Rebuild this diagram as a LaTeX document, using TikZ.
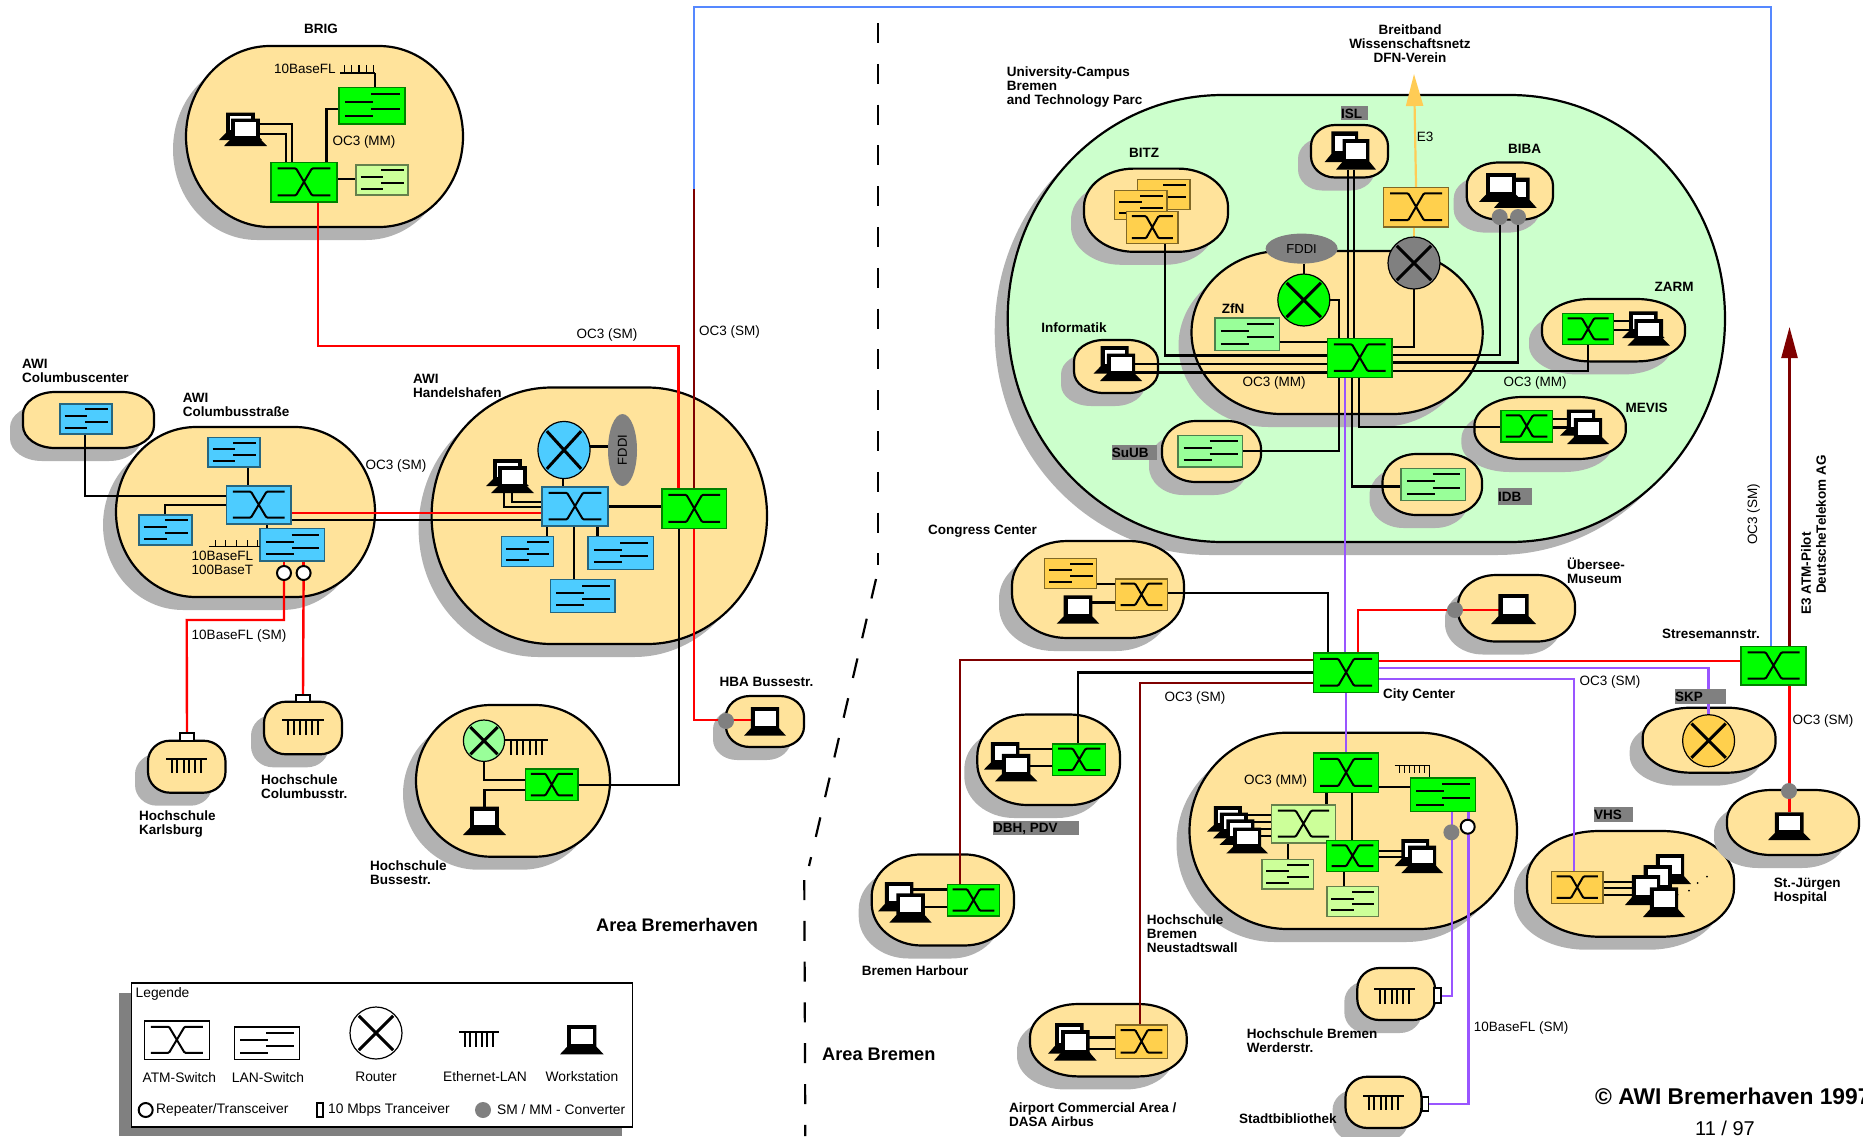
\documentclass[tikz,border=0pt]{standalone}
\usepackage{fontspec}
\setmainfont{Liberation Sans}
\usetikzlibrary{shapes.geometric,arrows.meta}
\definecolor{blobc}{HTML}{FFE39B}
\definecolor{campusc}{HTML}{CCFFCC}
\definecolor{shadowc}{HTML}{B2B2B2}
\definecolor{grn}{HTML}{00FF00}
\definecolor{blu}{HTML}{4DCCFF}
\definecolor{org}{HTML}{FFD04D}
\definecolor{lgr}{HTML}{CCFF99}
\definecolor{mgr}{HTML}{99FF99}
\definecolor{gry}{HTML}{808080}
\definecolor{drk}{HTML}{7F0000}
\definecolor{pur}{HTML}{9955FF}
\definecolor{bluw}{HTML}{5588FF}
\definecolor{yel}{HTML}{FFCC55}
\pgfdeclarelayer{bg}
\pgfdeclarelayer{wires}
\pgfsetlayers{bg,wires,main}
\tikzset{
  blab/.style={font=\fontsize{13.5}{14}\selectfont\bfseries,inner sep=0pt,align=left,yshift=-0.6pt},
  nlab/.style={font=\fontsize{13.5}{14.5}\selectfont,inner sep=0pt,align=left,yshift=-0.6pt},
  leglab/.style={font=\fontsize{13.8}{14}\selectfont,inner sep=0pt},
  areab/.style={font=\fontsize{18.2}{19}\selectfont\bfseries,inner sep=0pt},
  wb/.style={draw=black,line width=2.2pt},
  wr/.style={draw=red,line width=2.4pt},
  wd/.style={draw=drk,line width=2.4pt},
  wp/.style={draw=pur,line width=2.4pt},
  wu/.style={draw=bluw,line width=2.5pt},
  wy/.style={draw=yel,line width=2.2pt},
  conv/.style={circle,fill=gry,inner sep=0pt,outer sep=0pt,minimum size=16pt},
  rep/.style={circle,draw=black,fill=white,line width=2pt,inner sep=0pt,outer sep=0pt,minimum size=14pt},
  trc/.style={draw=black,fill=white,line width=1.6pt},
  fddi/.style={ellipse,fill=gry,inner sep=0pt,outer sep=0pt,font=\fontsize{13}{14}\selectfont},
  zone/.style={dash pattern=on 20pt off 20.8pt,line width=2.2pt,draw=black}
}
\newcommand\blob[7][blobc]{%
  \pgfmathsetmacro\bym{(#4+#6)/2}%
  \pgfmathsetmacro\bfr{((#6-#4)>=120)?1:(((#6-#4)>=60)?0.92:0.8)}%
  \pgfmathsetmacro\bry{\bfr*(#6-#4)/2}%
  \pgfmathsetmacro\bya{#4+\bry}%
  \pgfmathsetmacro\byb{#6-\bry}%
  \pgfmathsetmacro\bxl{#3+#7}%
  \pgfmathsetmacro\bxr{#5-#7}%
  \pgfmathsetmacro\bkx{0.5523*#7}%
  \pgfmathsetmacro\bky{0.5523*\bry}%
  \def\bpath{(\bxl,#4) -- (\bxr,#4) .. controls ({\bxr+\bkx},#4) and (#5,{\bya-\bky}) .. (#5,\bya) -- (#5,\byb) .. controls (#5,{\byb+\bky}) and ({\bxr+\bkx},#6) .. (\bxr,#6) -- (\bxl,#6) .. controls ({\bxl-\bkx},#6) and (#3,{\byb+\bky}) .. (#3,\byb) -- (#3,\bya) .. controls (#3,{\bya-\bky}) and ({\bxl-\bkx},#4) .. (\bxl,#4) -- cycle}%
  \fill[shadowc,shift={(-13,13)}] \bpath;
  \draw[line width=2.2pt,fill=#1] \bpath;
  \node[inner sep=0pt,outer sep=0pt,minimum width={(#5-#3)*1pt},minimum height={(#6-#4)*1pt}] (#2) at ({(#3+#5)/2},\bym) {};
}
\newcommand\devnode[6]{%
  \node[rectangle,inner sep=0pt,outer sep=0pt,minimum width={(#5-#3)*1pt},minimum height={(#6-#4)*1pt},#1] (#2) at ({(#3+#5)/2},{(#4+#6)/2}) {};
}
\newcommand\atm[7][]{%
  \devnode{fill=#7,draw=#7!50!black,line width=1.4pt,#1}{#2}{#3}{#4}{#5}{#6}
  \pgfmathsetmacro\devw{#5-#3}\pgfmathsetmacro\devh{#6-#4}%
  \begin{scope}[shift={(#3,#4)},x=\devw pt,y=-\devh pt]
    \draw[line width=2pt,rounded corners=1pt] (.1,.15)--(.38,.15)--(.62,.83)--(.9,.83) (.1,.83)--(.38,.83)--(.62,.15)--(.9,.15);
  \end{scope}
}
\newcommand\lan[7][]{%
  \devnode{fill=#7,draw=#7!50!black,line width=1.4pt,#1}{#2}{#3}{#4}{#5}{#6}
  \pgfmathsetmacro\devw{#5-#3}\pgfmathsetmacro\devh{#6-#4}%
  \begin{scope}[shift={(#3,#4)},x=\devw pt,y=-\devh pt]
    \draw[line width=2pt] (.49,.18)--(.92,.18) (.09,.4)--(.52,.4) (.49,.59)--(.92,.59) (.09,.79)--(.52,.79);
  \end{scope}
}
\newcommand\router[7][]{%
  \node[ellipse,draw=black,fill=#7,line width=1.2pt,inner sep=0pt,outer sep=0pt,minimum width={2*#5*1pt},minimum height={2*#6*1pt},#1] (#2) at (#3,#4) {};
  \draw[line width=3pt] ({#3-.66*#5},{#4-.66*#6}) -- ({#3+.66*#5},{#4+.66*#6}) ({#3-.66*#5},{#4+.66*#6}) -- ({#3+.66*#5},{#4-.66*#6});
}
\newcommand\ws[5]{%
  \devnode{}{#1}{#2}{#3}{#4}{#5}
  \pgfmathsetmacro\devw{#4-#2}\pgfmathsetmacro\devh{#5-#3}%
  \begin{scope}[shift={(#2,#3)},x=\devw pt,y=-\devh pt]
    \fill[black] (.164,0)--(.836,0)--(.836,.74)--(1,1)--(0,1)--(.164,.74)--cycle;
    \fill[white] (.26,.14) rectangle (.75,.65);
  \end{scope}
}
\newcommand\ethdown[6][line width=2pt]{%
  \devnode{}{#2}{#3}{#4}{#5}{#6}
  \pgfmathsetmacro\devw{#5-#3}\pgfmathsetmacro\devh{#6-#4}%
  \begin{scope}[shift={(#3,#4)},x=\devw pt,y=-\devh pt]
    \draw[#1] (0,0)--(1,0);
    \foreach \tk in {.14,.28,.43,.57,.71,.86} {\draw[#1] (\tk,0)--(\tk,1);}
  \end{scope}
}
\newcommand\ethup[5]{%
  \devnode{}{#1}{#2}{#3}{#4}{#5}
  \pgfmathsetmacro\devw{#4-#2}\pgfmathsetmacro\devh{#5-#3}%
  \begin{scope}[shift={(#2,#3)},x=\devw pt,y=-\devh pt]
    \draw[line width=1.2pt] (0,1)--(1,1);
    \foreach \tk in {.12,.33,.54,.75,.95} {\draw[line width=1.2pt] (\tk,1)--(\tk,0);}
  \end{scope}
}
\newcommand\graylab[6]{%
  \devnode{fill=gry}{#1}{#2}{#3}{#4}{#5}
  \node[blab,anchor=west] at (#1.west) {#6};
}
\begin{document}
\begin{tikzpicture}[x=1pt,y=-1pt]
\useasboundingbox (0,0) rectangle (1863,1136);

% ---------- areas ----------
\begin{pgfonlayer}{bg}
\blob{brig}{186}{46}{463}{227}{84}
\blob{colc}{23}{392}{154}{448}{32}
\blob{cols}{116}{427}{375}{597}{80}
\blob{hafen}{431.6}{387.5}{767}{644}{120}
\blob{karl}{148}{740.7}{225.5}{792.7}{22}
\blob{colh}{264}{701.7}{342}{754.3}{22}
\blob{buss}{416}{705}{610}{856.7}{75}
\blob{hba}{726}{696}{804}{747}{24}
\blob[campusc]{campus}{1007.7}{95}{1725}{542}{215}
\blob{isl}{1311}{125}{1388}{177.5}{24}
\blob{bitz}{1084}{168.6}{1228}{251.8}{50}
\blob{biba}{1466.7}{162.5}{1553}{219.6}{32}
\blob{zfn}{1191.5}{251}{1482.7}{414}{90}
\blob{inf}{1074}{340}{1158}{393}{30}
\blob{zarm}{1542}{299}{1685}{361.4}{48}
\blob{mevis}{1474.4}{397}{1625.8}{459}{48}
\blob{suub}{1162}{421}{1261}{482}{34}
\blob{idb}{1382.5}{454}{1482}{515}{34}
\blob{cong}{1012}{541}{1184}{638}{55}
\blob{ueb}{1458}{575}{1575}{641.5}{38}
\blob{dbh}{977.3}{714.5}{1120}{805}{50}
\blob{harb}{871.7}{854.4}{1014}{945.5}{50}
\blob{neu}{1189.5}{732.7}{1517}{929}{98}
\blob{airp}{1030}{1004}{1186.7}{1076.4}{48}
\blob{werd}{1357.3}{968}{1435}{1020}{22}
\blob{stadt}{1345.5}{1076.7}{1421.4}{1128}{22}
\blob{skp}{1642.7}{707.7}{1775.5}{772.7}{48}
\blob{vhs}{1527}{831}{1734}{936.7}{72}
\blob{jue}{1727}{790}{1859}{855}{44}
\end{pgfonlayer}

% ---------- BRIG ----------
\lan{brigl}{339}{87.5}{405}{124}{grn}
\lan{brigk}{356}{165}{408}{195}{lgr}
\atm{briga}{271}{162.5}{337}{202}{grn}
\ws{brigwb}{219}{112.5}{262}{140}
\ws{brigw}{224}{118.6}{267}{146}
\ethup{brige}{340}{65}{375}{73}
\node[nlab,anchor=west] (t1) at (274,68) {10BaseFL};
\node[nlab] (t2) at (364,141) {OC3 (MM)};
\node[blab] (t3) at (321,28.5) {BRIG};

% ---------- Columbus ----------
\lan{colcl}{60}{404}{112}{434}{blu}
\lan{colst}{208}{437.5}{260}{467}{blu}
\lan{colsl}{139}{515}{192}{545}{blu}
\lan{colsr}{260}{528.7}{324.5}{561}{blu}
\atm{colsa}{226.5}{486}{291}{524}{blu}
\ethup{colse}{209}{540}{260}{546.7}
\node[rep] (r1) at (284,573) {};
\node[rep] (r2) at (303.6,573) {};
\devnode{trc}{tk}{180}{733}{194}{740.7}
\devnode{trc}{tc}{296}{695}{310}{701.7}
\ethdown{karle}{166}{758.7}{207}{773}
\ethdown{colhe}{282}{720}{324}{735}
\node[blab,anchor=west] (t4) at (22,370) {AWI\\Columbuscenter};
\node[blab,anchor=west] (t5) at (182.6,404) {AWI\\Columbusstraße};
\node[nlab,anchor=west] at (191.5,562) {10BaseFL\\100BaseT};
\node[nlab] at (239,635.7) {10BaseFL (SM)};
\node[nlab] at (396,465) {OC3 (SM)};
\node[blab,anchor=west] at (139,823) {Hochschule\\Karlsburg};
\node[blab,anchor=west] at (261,786) {Hochschule\\Columbusstr.};

% ---------- Handelshafen ----------
\router{hafr}{564}{450}{26}{28.6}{blu}
\node[fddi,minimum width=29pt,minimum height=72pt] (haff) at (622.5,450) {};
\node[font=\fontsize{13}{14}\selectfont,rotate=90,inner sep=0pt] at (haff.center) {FDDI};
\atm{hafa}{542}{487}{608}{526}{blu}
\atm{hafg}{662}{489}{726.5}{528.6}{grn}
\lan{hafl1}{501.5}{536.7}{553.6}{566.7}{blu}
\lan{hafl2}{588}{536.7}{653.6}{569.3}{blu}
\lan{hafl3}{550.5}{579.7}{615}{612.3}{blu}
\ws{hafwb}{486}{459}{529}{486}
\ws{hafw}{491}{466}{534}{493}
\node[blab,anchor=west] at (413,385.7) {AWI\\Handelshafen};

% ---------- Bussestr / HBA ----------
\router{bussr}{484}{740.7}{20.6}{20.7}{mgr}
\ethdown{busse}{505}{740}{548}{755}
\atm{bussa}{525.5}{769}{578}{800.7}{grn}
\ws{bussw}{463}{806.7}{506}{835}
\ws{hbaw}{744}{707}{786}{735.7}
\node[conv] (hbac) at (726,721) {};
\node[blab,anchor=west] at (370,872) {Hochschule\\Bussestr.};
\node[blab,anchor=west] at (719.4,681.7) {HBA Bussestr.};
\node[nlab] at (607,334) {OC3 (SM)};
\node[nlab] at (729.6,331) {OC3 (SM)};
\node[areab,anchor=west] at (596,925) {Area Bremerhaven};
\node[areab,anchor=west] at (822,1054) {Area Bremen};

% ---------- Campus ----------
\node[blab,anchor=west] at (1006.6,86.4) {University-Campus\\Bremen\\and Technology Parc};
\node[blab,align=center] (t6) at (1410,43.5) {Breitband\\Wissenschaftsnetz\\DFN-Verein};
\node[nlab] at (1425,136) {E3};
\graylab{islb}{1341}{106}{1368}{119.6}{ISL}
\ws{islwb}{1324.7}{131.4}{1364.7}{162}
\ws{islw}{1336}{139}{1376}{169.6}
\node[blab] at (1144,152.5) {BITZ};
\lan{bitl1}{1137.6}{179.6}{1190}{209.6}{org}
\lan{bitl2}{1114.5}{190.4}{1166.8}{219.6}{org}
\atm{bita}{1126.6}{211.4}{1178}{243.6}{org}
\atm{yatm}{1383.6}{187.5}{1448.5}{226.8}{org}
\router{grr}{1414}{263}{26}{26}{gry}
\node[fddi,minimum width=72pt,minimum height=30pt] (zfnf) at (1301.6,248.6) {FDDI};
\router{zfnr}{1303.8}{300}{26}{26}{grn}
\node[blab] at (1233,308) {ZfN};
\lan{zfnl}{1215}{318}{1279.6}{350.7}{mgr}
\atm{cent}{1327.5}{338.6}{1392}{377.5}{grn}
\node[nlab] at (1274,382.5) {OC3 (MM)};
\node[nlab] at (1535,382.5) {OC3 (MM)};
\node[blab] at (1524.5,148) {BIBA};
\ws{bibwb}{1494}{177.5}{1536.6}{207.8}
\ws{bibw}{1479}{173}{1523}{201.8}
\node[conv] (bibc1) at (1499.7,217) {};
\node[conv] (bibc2) at (1518,217) {};
\node[blab] at (1074,327.5) {Informatik};
\ws{infwb}{1093.6}{346}{1135.6}{373.6}
\ws{infw}{1100}{353.6}{1142}{381}
\node[blab] at (1674,286.4) {ZARM};
\atm{zara}{1562.5}{313.6}{1613.6}{344.6}{grn}
\ws{zarwb}{1622}{311.4}{1664.6}{338}
\ws{zarw}{1627.4}{319}{1670}{345.7}
\node[blab] at (1646.7,407.5) {MEVIS};
\atm{meva}{1500.8}{410.7}{1552.5}{442}{grn}
\ws{mevwb}{1560}{409.6}{1602}{435.6}
\ws{mevw}{1567}{418}{1609}{444}
\graylab{suubb}{1111.7}{444.6}{1156.9}{459.6}{SuUB}
\lan{suubl}{1177.8}{435.7}{1242.7}{467}{mgr}
\graylab{idbb}{1498}{487.5}{1532}{504.6}{IDB}
\lan{idbl}{1401}{468.6}{1465.6}{500.7}{mgr}

% ---------- Congress etc ----------
\node[blab,anchor=west] at (928,530.6) {Congress Center};
\lan{congl}{1044.7}{558.5}{1096.7}{588.4}{org}
\atm{conga}{1115.3}{579}{1167.7}{610.4}{org}
\ws{congw}{1056.7}{595.4}{1099.3}{623.7}
\atm{city}{1313.6}{653}{1378.6}{692.3}{grn}
\node[blab,anchor=west] at (1383,694.3) {City Center};
\node[nlab] at (1195,697) {OC3 (SM)};
\atm{stre}{1741}{646.7}{1806}{685}{grn}
\node[blab,anchor=west] at (1662,633) {Stresemannstr.};
\node[nlab] at (1610,681) {OC3 (SM)};
\node[nlab] at (1823,720) {OC3 (SM)};
\node[nlab,rotate=90] at (1753.6,514) {OC3 (SM)};
\node[blab,rotate=90] at (1806,573) {E3 ATM-Pilot};
\node[blab,rotate=90] at (1821,524) {DeutscheTelekom AG};
\node[blab,anchor=west] at (1567,570) {Übersee-\\Museum};
\ws{uebw}{1491}{594}{1536}{624}
\node[conv] (uebc) at (1455,610) {};

\atm{dbha}{1052.7}{744}{1105.7}{775.4}{grn}
\ws{dbhwb}{984}{742}{1026.3}{769.5}
\ws{dbhw}{995}{753.8}{1037.3}{781.3}
\graylab{dbhb}{993}{821}{1079}{835}{DBH, PDV}
\atm{harba}{947.3}{884.6}{999.7}{916}{grn}
\ws{harwb}{878}{882}{920.4}{911.4}
\ws{harw}{889.3}{893.3}{931.7}{922.7}
\node[blab,anchor=west] at (861.7,970) {Bremen Harbour};
\atm{airpa}{1115.3}{1025}{1167.7}{1058.3}{org}
\ws{airwb}{1048}{1023}{1090.7}{1053.7}
\ws{airw}{1054}{1030}{1096.7}{1060.7}
\node[blab,anchor=west] at (1009,1114.2) {Airport Commercial Area /\\DASA Airbus};

% ---------- Neustadtswall ----------
\atm{neua}{1313.6}{753}{1378.6}{792.7}{grn}
\node[nlab] at (1275.5,780.7) {OC3 (MM)};
\lan{neul}{1410.5}{778}{1475.5}{811.7}{grn}
\ethdown[line width=1.2pt]{neue}{1394.5}{765.7}{1429.5}{772.7}
\atm{neub}{1271.4}{805}{1335.5}{843}{lgr}
\atm{neuc}{1326.4}{840.7}{1378.6}{871.3}{grn}
\lan{neul2}{1261.8}{859.3}{1313.6}{889}{lgr}
\lan{neul3}{1326.8}{886.7}{1378.6}{916.3}{lgr}
\ws{neuw4}{1207}{806}{1248.6}{831.6}
\ws{neuw3}{1213}{812.7}{1254.6}{838.3}
\ws{neuw2}{1219.5}{819.3}{1261.1}{844.9}
\ws{neuw1}{1226.4}{827.7}{1268}{853.3}
\ws{neuwb}{1394.5}{839}{1436}{866}
\ws{neuw}{1401.4}{845.7}{1443}{873}
\node[conv] (neuc1) at (1451.4,832.3) {};
\node[rep] (neur1) at (1467.7,826.7) {};
\node[blab,anchor=west] at (1146.7,933.4) {Hochschule\\Bremen\\Neustadtswall};
\ethdown{werde}{1374}{989}{1415}{1004}
\devnode{trc}{wert}{1434}{988}{1441}{1002.7}
\node[blab,anchor=west] at (1246.7,1040) {Hochschule Bremen\\Werderstr.};
\ethdown{stade}{1363}{1095.7}{1404}{1110}
\devnode{trc}{stat}{1422}{1097}{1428.6}{1111}
\node[blab,anchor=west] at (1239,1118) {Stadtbibliothek};
\node[nlab] at (1521,1027) {10BaseFL (SM)};

% ---------- SKP, VHS, Juergen ----------
\graylab{skpb}{1675}{689}{1726.4}{703.7}{SKP}
\router{skpr}{1708.6}{740.7}{26}{26}{org}
\graylab{vhsb}{1594}{807.3}{1633}{822}{VHS}
\atm{vhsa}{1551.4}{871.7}{1603}{903.3}{org}
\ws{vhsw4}{1649}{854}{1691}{884}
\ws{vhsw3}{1636.7}{865}{1678.7}{895}
\ws{vhsw2}{1625}{875}{1667}{905}
\ws{vhsw1}{1643}{887.3}{1685}{917}
\fill (1707,876.7) circle (1pt) (1697.7,883) circle (1pt) (1689,890.7) circle (1pt);
\ws{juew}{1768}{812.3}{1810.5}{840}
\node[conv] (juec) at (1789,791) {};
\node[blab,anchor=west] at (1773.6,890.7) {St.-Jürgen\\Hospital};
\node[font=\fontsize{22.8}{24}\selectfont\bfseries,anchor=west,inner sep=0pt] at (1595,1096) {© AWI Bremerhaven 1997};
\node[font=\fontsize{20}{22}\selectfont,inner sep=0pt] at (1725,1128.5) {11 / 97};

% ---------- Legend ----------
\fill[gry] (118.6,993) rectangle (622,1136);
\devnode{draw=black,fill=white,line width=1.2pt}{legbox}{131.4}{983}{632.5}{1127}
\node[leglab,anchor=west] at (135.5,993.5) {Legende};
\atm[draw=black,line width=1.2pt]{legatm}{144.3}{1021}{209.3}{1059.3}{white}
\lan[draw=black,line width=1.2pt]{leglan}{234.3}{1027}{299.3}{1059.3}{white}
\router{legr}{376}{1033}{26}{26}{white}
\ethdown{lege}{459}{1032}{499}{1047}
\ws{legw}{560}{1025}{603.6}{1054.3}
\node[leglab] at (179.3,1078) {ATM-Switch};
\node[leglab] at (268,1078) {LAN-Switch};
\node[leglab] at (376,1077) {Router};
\node[leglab] at (485,1077) {Ethernet-LAN};
\node[leglab] at (582,1077) {Workstation};
\node[rep] (legrep) at (145.7,1110) {};
\node[leglab,anchor=west] at (156,1110) {Repeater/Transceiver};
\devnode{trc,fill=white}{legt}{316.8}{1103}{323}{1116.7}
\node[leglab,anchor=west] at (328,1110) {10 Mbps Tranceiver};
\node[conv] (legc) at (483,1110) {};
\node[leglab,anchor=west] at (497,1110) {SM / MM - Converter};

% ---------- zone border ----------
\coordinate (z0) at (878,23);
\coordinate (z1) at (878,565);
\coordinate (z2) at (876,579);
\coordinate (z3) at (809,866);
\coordinate (z4) at (804.3,880);
\coordinate (z5) at (805.3,1136);
\draw[zone] (z0) -- (z1);
\draw[zone] (z2) -- (z3);
\draw[zone] (z4) -- (z5);
\coordinate (dfn) at (1414,74);
\coordinate (atmp) at (1789.5,327);
\coordinate (bc1) at (694,189);
\coordinate (bc2) at (694,7);
\coordinate (bc3) at (1771,7);

% ---------- connectors ----------
\begin{pgfonlayer}{wires}
% BRIG
\draw[wb] (brigw.center |- 0,123.6) -| (292,0 |- briga.north);
\draw[wb] (brigw.center |- 0,134) -| (286,0 |- briga.north);
\draw[wb] (326.5,0 |- briga.north) |- (brigl.west |- 0,109);
\draw[wb] (briga.east |- 0,178.6) -- (brigk.west |- 0,178.6);
\draw[line width=1.2pt] (375,0 |- brige.south) -- (375,0 |- brigl.north);
\draw[wr] (318,0 |- briga.south) |- (678.6,346) -- (678.6,0 |- hafg.north);
\draw[wd] (bc1) -- (694,0 |- hafg.north);
\draw[wu] (bc1) -- (bc2) -- (bc3) -- (1771,0 |- stre.north);
% Columbus
\draw[wb] (248,0 |- colst.south) -- (248,0 |- colsa.north);
\draw[wb] (colsa.west |- 0,505) -| (165,0 |- colsl.north);
\draw[wb] (85,0 |- colcl.south) |- (colsa.west |- 0,496);
\draw[wb] (267,0 |- colsa.south) -- (267,0 |- colsr.north);
\draw[wr] (colsa.east |- 0,513) -- (hafa.west |- 0,513);
\draw[wb] (colsa.east |- 0,519.6) -- (hafa.west |- 0,519.6);
\draw[line width=1.2pt] (colse.south east) -- (colsr.west |- 0,546.7);
\draw[wr] (284,0 |- colsr.south) -- (r1.north);
\draw[wr] (303.6,0 |- colsr.south) -- (r2.north);
\draw[wr] (r1.south) |- (186.7,620) -- (tk.north);
\draw[wr] (r2.south) -- (tc.north);
% Handelshafen
\draw[wb] (hafr.east |- 0,446.4) -- (haff.west |- 0,446.4);
\draw[wb] (563,0 |- hafr.south) -- (563,0 |- hafa.north);
\draw[wb] (504,0 |- hafw.south) |- (hafa.west |- 0,507);
\draw[wb] (512,0 |- hafw.south) |- (hafa.west |- 0,501.7);
\draw[wb] (hafa.east |- 0,506.4) -- (hafg.west |- 0,506.4);
\draw[wb] (547,0 |- hafa.south) -- (547,0 |- hafl1.north);
\draw[wb] (597.5,0 |- hafa.south) -- (597.5,0 |- hafl2.north);
\draw[wb] (574,0 |- hafa.south) -- (574,0 |- hafl3.north);
\draw[wb] (678.6,0 |- hafg.south) |- (bussa.east |- 0,785);
\draw[wr] (694,0 |- hafg.south) |- (hbaw.center |- 0,720);
% Bussestr
\draw[wb] (bussr.south) |- (bussa.west |- 0,780);
\draw[wb] (bussw.north) |- (bussa.west |- 0,790);
% Campus
\draw[wy,-{Triangle[length=32pt,width=17pt]}] (yatm.north) -- (dfn);
\draw[wy] (grr.north) -- (1414,0 |- yatm.south);
\draw[wb] (zfnf.south -| zfnr.north) -- (zfnr.north);
\draw[wb] (zfnr.east) -| (1339,0 |- cent.north);
\draw[wb] (1339,0 |- cent.south) |- (suubl.east |- 0,451);
\draw[wb] (1348,0 |- islw.south) -- (1348,0 |- cent.north);
\draw[wb] (1354,0 |- islw.south) -- (1354,0 |- cent.north);
\draw[wb] (cent.east |- 0,347) -| (grr.south);
\draw[wb] (zfnl.east |- 0,342) -- (cent.west |- 0,342);
\draw[wb] (1165,0 |- bita.south) |- (cent.west |- 0,355.4);
\draw[wb] (infw.center |- 0,363.6) -- (cent.west |- 0,363.6);
\draw[wb] (infw.center |- 0,372.5) -- (cent.west |- 0,372.5);
\draw[wb] (cent.east |- 0,354.6) -| (bibc1.north);
\draw[wb] (cent.east |- 0,362.5) -| (bibc2.north);
\draw[wb] (cent.east |- 0,370.7) -| (1587.8,0 |- zara.south);
\draw[wb] (zara.east |- 0,321) -- (zarw.center |- 0,321);
\draw[wb] (zara.east |- 0,330) -- (zarw.center |- 0,330);
\draw[wb] (1359,0 |- cent.south) |- (meva.west |- 0,426.8);
\draw[wb] (meva.east |- 0,418.6) -- (mevw.center |- 0,418.6);
\draw[wb] (meva.east |- 0,427.5) -- (mevw.center |- 0,427.5);
\draw[wb] (1352,0 |- cent.south) |- (idbl.west |- 0,486.4);
\draw[wp] (1345,0 |- cent.south) -- (1345,0 |- city.north);
% Congress etc
\draw[wb] (congl.east |- 0,583.6) -- (conga.west |- 0,583.6);
\draw[wb] (congw.center |- 0,602.5) -- (conga.west |- 0,602.5);
\draw[wb] (conga.east |- 0,593) -| (1328,0 |- city.north);
\draw[wd] (city.west |- 0,660) -| (960,0 |- harba.north);
\draw[wb] (city.west |- 0,672.5) -| (1078,0 |- dbha.north);
\draw[wd] (city.west |- 0,683) -| (1140,0 |- airpa.north);
\draw[wb] (dbhw.center |- 0,749) -- (dbha.west |- 0,749);
\draw[wb] (dbhw.center |- 0,766) -- (dbha.west |- 0,766);
\draw[wb] (harw.center |- 0,889.4) -- (harba.west |- 0,889.4);
\draw[wb] (harw.center |- 0,907) -- (harba.west |- 0,907);
\draw[wb] (airw.center |- 0,1037.5) -- (airpa.west |- 0,1037.5);
\draw[wb] (airw.center |- 0,1049) -- (airpa.west |- 0,1049);
\draw[wr] (1358,0 |- city.north) |- (uebw.center |- 0,610);
\draw[wr] (city.east |- 0,660.7) -- (stre.west |- 0,660.7);
\draw[wp] (city.east |- 0,668) -| (skpr.north);
\draw[wp] (city.east |- 0,679) -| (1574,0 |- vhsa.north);
\draw[wd,-{Triangle[length=31pt,width=16pt]}] (stre.north -| atmp) -- (atmp);
\draw[wr] (1789.5,0 |- stre.south) -- (1789.5,0 |- juew.north);
% Neustadtswall
\draw[wp] (1346,0 |- city.south) -- (1346,0 |- neua.north);
\draw[wb] (neua.east |- 0,787) -- (neul.west |- 0,787);
\draw[line width=1.2pt] (1429.5,0 |- neue.north) -- (1429.5,0 |- neul.north);
\draw[wb] (1326.4,0 |- neua.south) -- (1326.4,0 |- neub.north);
\draw[wb] (1351.8,0 |- neua.south) -- (1351.8,0 |- neuc.north);
\draw[wb] (1288,0 |- neub.south) -- (1288,0 |- neul2.north);
\draw[wb] (1343.6,0 |- neuc.south) -- (1343.6,0 |- neul3.north);
\draw[wb] (neuc.east |- 0,850.7) -- (neuw.center |- 0,850.7);
\draw[wb] (neuc.east |- 0,857) -- (neuw.center |- 0,857);
\draw[wb] (neuw1.center |- 0,814.7) -- (neub.west |- 0,814.7);
\draw[wb] (neuw1.center |- 0,821.7) -- (neub.west |- 0,821.7);
\draw[wb] (neuw1.center |- 0,829) -- (neub.west |- 0,829);
\draw[wb] (neuw1.center |- 0,836) -- (neub.west |- 0,836);
\draw[wp] (1452,0 |- neul.south) |- (wert.east |- 0,996);
\draw[wp] (1468.6,0 |- neul.south) |- (stat.east |- 0,1104);
% VHS
\draw[wb] (vhsa.east |- 0,881.7) -- (vhsw2.center |- 0,881.7);
\draw[wb] (vhsa.east |- 0,888) -- (vhsw2.center |- 0,888);
\draw[wb] (vhsa.east |- 0,895) -- (vhsw2.center |- 0,895);
\end{pgfonlayer}
\end{tikzpicture}
\end{document}
